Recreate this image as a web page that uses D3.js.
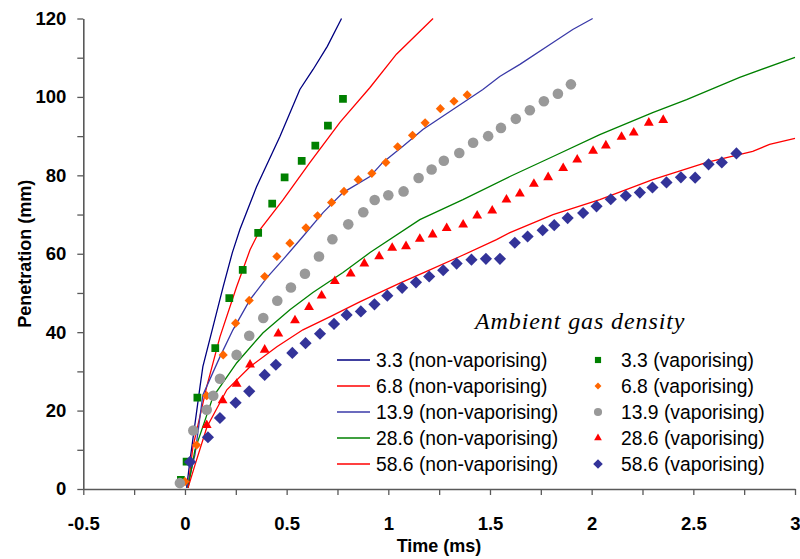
<!DOCTYPE html>
<html>
<head>
<meta charset="utf-8">
<script src="https://cdn.jsdelivr.net/npm/d3@7"></script>
<style>
  body { margin: 0; background: #fff; }
  svg { display: block; font-family: "Liberation Sans", Arial, sans-serif; }
</style>
</head>
<body>
<div id="chart"></div>
<script>
// non-vaporising (lines): [time ms, penetration mm]
const nv33 = [[0.008, 0.3], [0.025, 7.4], [0.074, 26.1], [0.088, 31.2], [0.138, 41.4], [0.188, 51.6], [0.233, 60.3],
  [0.27, 66.2], [0.352, 77.1], [0.467, 89.9], [0.565, 101.9], [0.63, 107], [0.70, 112.9], [0.77, 120]]
const nv68 = [[0.015, 0.3], [0.039, 10.7], [0.107, 26.1], [0.172, 38.8], [0.254, 51.6], [0.32, 61], [0.37, 66.2],
  [0.483, 73.8], [0.615, 83.3], [0.762, 93.5], [0.91, 102.4], [1.04, 110.9], [1.22, 120]]
const nv139 = [[0.01, 0.3], [0.049, 8.7], [0.088, 24], [0.172, 33.7], [0.236, 40.6], [0.32, 48.3], [0.403, 53.9],
  [0.482, 58.5], [0.58, 64.4], [0.679, 70.5], [0.777, 75.6], [0.91, 79.7], [0.973, 83.3], [1.072, 87.4],
  [1.17, 91.7], [1.303, 96.3], [1.465, 101.9], [1.548, 105.2], [1.647, 108.3], [1.81, 113.9], [1.907, 117.2], [2.005, 120]]
const nv286 = [[0.015, 0.3], [0.049, 10], [0.138, 23.5], [0.255, 32.2], [0.383, 39.8], [0.516, 45.7], [0.629, 50.1],
  [0.777, 55.2], [0.91, 60.3], [1.155, 68.7], [1.367, 73.8], [1.598, 79.7], [1.81, 84.8], [2.04, 90.4],
  [2.30, 96], [2.467, 99.3], [2.728, 105], [3.0, 110.1]]
const nv586 = [[0.015, 0.3], [0.049, 6.1], [0.108, 15.8], [0.206, 25.3], [0.32, 31.2], [0.452, 36.3], [0.58, 40.6],
  [0.712, 43.9], [0.862, 47.8], [1.057, 52.5], [1.188, 55.5], [1.352, 59.3], [1.532, 63.6], [1.598, 65.4],
  [1.81, 70], [2.04, 73.8], [2.30, 78.9], [2.566, 83.3], [2.792, 86.1], [2.875, 87.9], [3.0, 89.4]]

// vaporising (markers)
const v33 = [[-0.02, 2.3], [0.008, 7.0], [0.061, 23.3], [0.149, 35.9], [0.218, 48.7], [0.284, 55.9], [0.36, 65.3],
  [0.429, 72.8], [0.49, 79.5], [0.574, 83.7], [0.641, 87.6], [0.703, 92.7], [0.777, 99.5]]
const v68 = [[0.0, 1.9], [0.057, 11.2], [0.107, 23.8], [0.188, 34.2], [0.249, 42.3], [0.316, 48.1], [0.392, 54.2],
  [0.452, 59.3], [0.516, 62.7], [0.595, 66.6], [0.652, 69.7], [0.721, 73.1], [0.782, 75.9], [0.852, 78.9],
  [0.919, 80.5], [0.988, 83.3], [1.046, 87.3], [1.119, 90.2], [1.181, 93.4], [1.256, 97], [1.323, 98.9], [1.388, 100.5]]
const v139 = [[-0.025, 1.5], [0.041, 14.9], [0.107, 20.2], [0.139, 23.8], [0.172, 28.1], [0.254, 34.2], [0.316, 39.1],
  [0.385, 43.6], [0.454, 48.0], [0.521, 51.4], [0.59, 54.9], [0.659, 59.3], [0.725, 63.7], [0.803, 67.5],
  [0.877, 70.6], [0.933, 73.7], [1.0, 74.9], [1.075, 75.9], [1.149, 79.3], [1.213, 81.5], [1.273, 83.7],
  [1.349, 85.7], [1.417, 88.3], [1.491, 90], [1.554, 92.1], [1.627, 94.4], [1.696, 96.6], [1.765, 98.9],
  [1.834, 100.8], [1.898, 103.2]]
const v286 = [[0.107, 16.3], [0.185, 22.6], [0.254, 26.8], [0.32, 31.7], [0.392, 35.5], [0.459, 39.6], [0.541, 43.0],
  [0.61, 46.4], [0.672, 49.3], [0.737, 53.0], [0.815, 54.9], [0.882, 57.5], [0.955, 59.3], [1.019, 61.5],
  [1.087, 61.9], [1.155, 63.8], [1.218, 64.9], [1.287, 66.5], [1.368, 67.4], [1.437, 69.7], [1.511, 71.0],
  [1.581, 73.8], [1.647, 75.3], [1.716, 77.8], [1.786, 79.5], [1.86, 81.8], [1.929, 84.0], [2.007, 86.2],
  [2.07, 87.6], [2.147, 89.8], [2.207, 90.9], [2.281, 93.4], [2.352, 94.1]]
const v586 = [[0.025, 6.9], [0.113, 13.2], [0.172, 18.1], [0.249, 22.0], [0.316, 24.9], [0.392, 29.1], [0.447, 31.7],
  [0.528, 34.7], [0.593, 37.2], [0.664, 39.6], [0.733, 42.1], [0.795, 44.4], [0.865, 45.3], [0.932, 47.1],
  [0.995, 49.3], [1.068, 51.3], [1.136, 52.7], [1.201, 54.2], [1.27, 55.8], [1.336, 57.5], [1.409, 58.5],
  [1.48, 58.7], [1.549, 58.7], [1.622, 62.8], [1.685, 64.4], [1.759, 66.0], [1.816, 67.3], [1.882, 69.1],
  [1.958, 70.4], [2.024, 72.1], [2.094, 73.9], [2.168, 74.8], [2.237, 75.6], [2.299, 76.9], [2.368, 78.2],
  [2.439, 79.5], [2.509, 79.4], [2.575, 82.8], [2.64, 83.3], [2.712, 85.6]]

const lineSeries = [
  { name: '3.3 (non-vaporising)', data: nv33, color: '#000080' },
  { name: '6.8 (non-vaporising)', data: nv68, color: '#ff0000' },
  { name: '13.9 (non-vaporising)', data: nv139, color: '#3a3aa8' },
  { name: '28.6 (non-vaporising)', data: nv286, color: '#008000' },
  { name: '58.6 (non-vaporising)', data: nv586, color: '#ff0000' }
]
const markerSeries = [
  { name: '3.3 (vaporising)', data: v33, color: '#008000', type: d3.symbolSquare, size: 60, legendSize: 38, rotate: 0 },
  { name: '6.8 (vaporising)', data: v68, color: '#ff6600', type: d3.symbolSquare, size: 42, legendSize: 24, rotate: 45 },
  { name: '13.9 (vaporising)', data: v139, color: '#999999', type: d3.symbolCircle, size: 88, legendSize: 52, rotate: 0 },
  { name: '28.6 (vaporising)', data: v286, color: '#ff0000', type: d3.symbolTriangle, size: 42, legendSize: 26, rotate: 0 },
  { name: '58.6 (vaporising)', data: v586, color: '#333399', type: d3.symbolSquare, size: 74, legendSize: 46, rotate: 45 }
]

const xTicks = d3.range(-0.5, 3.001, 0.25)
const yTicks = d3.range(0, 121, 10)

const width = 800
const height = 559
const margin = { left: 83.3, right: 5, top: 18.5, bottom: 70 }

const svg = d3.select('#chart')
  .append('svg')
  .attr('width', width)
  .attr('height', height)

svg.append('rect')
  .attr('width', width)
  .attr('height', height)
  .attr('fill', '#ffffff')

const x = d3.scaleLinear().domain([-0.5, 3]).range([margin.left, 795])
const y = d3.scaleLinear().domain([0, 120]).range([489, margin.top])

svg.append('defs')
  .append('clipPath')
  .attr('id', 'plot-clip')
  .append('rect')
  .attr('x', margin.left)
  .attr('y', margin.top - 1)
  .attr('width', width - margin.left)
  .attr('height', 489 - margin.top + 1)

// axes
const xAxis = svg.append('g')
  .attr('transform', `translate(0, ${y(0)})`)
  .call(d3.axisBottom(x)
    .tickValues(xTicks)
    .tickSize(6)
    .tickSizeOuter(0)
    .tickPadding(7)
    .tickFormat(d => Math.abs(d * 2 - Math.round(d * 2)) < 1e-6 ? String(d) : ''))

const yAxis = svg.append('g')
  .attr('transform', `translate(${x(-0.5)}, 0)`)
  .call(d3.axisLeft(y)
    .tickValues(yTicks)
    .tickSize(6)
    .tickSizeOuter(0)
    .tickPadding(11)
    .tickFormat(d => d % 20 === 0 ? String(d) : ''))

;[xAxis, yAxis].forEach(g => {
  g.select('.domain').attr('stroke', '#595959').attr('stroke-width', 1.6)
  g.selectAll('.tick line').attr('stroke', '#595959').attr('stroke-width', 1.3)
  g.selectAll('.tick text')
    .attr('fill', '#000')
    .attr('font-size', '18.5px')
    .attr('font-weight', 'bold')
    .attr('font-family', '"Liberation Sans", Arial, sans-serif')
})
xAxis.selectAll('.tick text').attr('dy', '1.5em')

svg.append('text')
  .attr('x', 439)
  .attr('y', 552)
  .attr('text-anchor', 'middle')
  .attr('font-size', '18px')
  .attr('font-weight', 'bold')
  .text('Time (ms)')

svg.append('text')
  .attr('transform', `translate(31, ${(y(0) + y(120)) / 2}) rotate(-90)`)
  .attr('text-anchor', 'middle')
  .attr('font-size', '18px')
  .attr('font-weight', 'bold')
  .text('Penetration (mm)')

// series
const plot = svg.append('g').attr('clip-path', 'url(#plot-clip)')

const line = d3.line()
  .x(d => x(d[0]))
  .y(d => y(d[1]))

plot.selectAll('path.nv-line')
  .data(lineSeries)
  .enter()
  .append('path')
  .attr('class', 'nv-line')
  .attr('d', d => line(d.data))
  .attr('fill', 'none')
  .attr('stroke', d => d.color)
  .attr('stroke-width', 1.3)

markerSeries.forEach(s => {
  const sym = d3.symbol().type(s.type).size(s.size)
  plot.append('g')
    .selectAll('path')
    .data(s.data)
    .enter()
    .append('path')
    .attr('d', sym)
    .attr('fill', s.color)
    .attr('transform', d => `translate(${x(d[0])}, ${y(d[1])}) rotate(${s.rotate})`)
})

// legend
svg.append('text')
  .attr('x', 475)
  .attr('y', 329)
  .attr('font-family', '"Liberation Serif", "Times New Roman", serif')
  .attr('font-style', 'italic')
  .attr('font-size', '24px')
  .attr('letter-spacing', '0.9px')
  .text('Ambient gas density')

const rowY = i => 360 + i * 26

const legendLines = svg.append('g')
  .selectAll('g')
  .data(lineSeries)
  .enter()
  .append('g')
  .attr('transform', (d, i) => `translate(0, ${rowY(i)})`)

legendLines.append('line')
  .attr('x1', 337)
  .attr('x2', 370)
  .attr('stroke', d => d.color)
  .attr('stroke-width', 1.3)

legendLines.append('text')
  .attr('x', 376)
  .attr('y', 6.8)
  .attr('font-size', '19.3px')
  .attr('fill', '#000')
  .text(d => d.name)

const legendMarkers = svg.append('g')
  .selectAll('g')
  .data(markerSeries)
  .enter()
  .append('g')
  .attr('transform', (d, i) => `translate(0, ${rowY(i)})`)

legendMarkers.append('path')
  .attr('d', d => d3.symbol().type(d.type).size(d.legendSize)())
  .attr('fill', d => d.color)
  .attr('transform', d => `translate(598, 0) rotate(${d.rotate})`)

legendMarkers.append('text')
  .attr('x', 621)
  .attr('y', 6.8)
  .attr('font-size', '19.3px')
  .attr('fill', '#000')
  .text(d => d.name)
</script>
</body>
</html>
